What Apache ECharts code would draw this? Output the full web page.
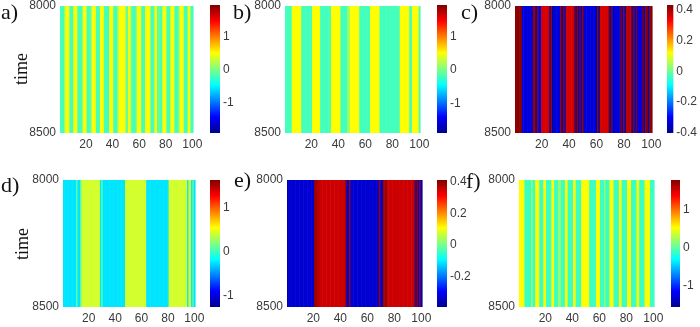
<!DOCTYPE html>
<html>
<head>
<meta charset="utf-8">
<script src="https://cdn.jsdelivr.net/npm/echarts@6/dist/echarts.min.js"></script>
<style>
  html, body { margin: 0; padding: 0; background: #fff; }
  #chart { width: 700px; height: 327px; }
</style>
</head>
<body>
<div id="chart"></div>
<script>
// Lattice sites 1..100 and the time window shown on every panel
const sites = Array.from({ length: 100 }, (_, i) => i + 1);
const timeSpan = [8000, 8500];
const timeTicks = [8000, 8500];
const siteTicks = [20, 40, 60, 80, 100];

// Per-site state (the patterns are frozen over the time window)
const fieldA = [
  -0.2,-0.2,-0.2,0.1,0.5,0.5,0.5,-0.2,-0.2,-0.2,
  0.5,0.5,0.5,-0.2,-0.2,-0.2,-0.2,0.5,0.5,0.5,
  -0.2,-0.2,-0.2,0.1,0.5,0.5,0.5,-0.2,-0.2,-0.2,
  0.5,0.5,0.5,-0.2,-0.2,-0.2,-0.2,0.5,0.5,0.5,
  -0.2,-0.2,-0.2,0.1,0.5,0.5,0.5,0.5,0.5,0.1,
  -0.2,0.5,0.5,0.0,-0.2,-0.2,-0.2,0.1,0.5,0.5,
  0.5,-0.2,-0.2,-0.2,0.5,0.5,0.5,0.5,-0.2,-0.2,
  -0.2,0.5,0.5,-0.2,0.0,-0.2,-0.2,0.5,0.5,0.5,
  -0.2,-0.2,-0.2,0.5,0.5,0.5,-0.2,-0.2,-0.2,0.1,
  0.5,0.5,0.5,-0.2,-0.2,-0.2,0.5,0.5,-0.2,-0.2
];
const fieldB = [
  -0.2,-0.2,-0.2,-0.2,-0.2,0.5,0.5,0.5,0.5,0.5,
  0.5,0.5,-0.2,-0.2,-0.2,-0.2,-0.2,-0.2,-0.2,-0.2,
  0.5,0.5,0.5,0.5,0.5,0.5,-0.2,-0.2,-0.2,-0.2,
  -0.2,-0.2,-0.2,-0.2,0.5,0.5,0.5,0.5,0.5,0.5,
  0.5,-0.2,-0.2,-0.2,-0.2,-0.2,0.1,0.1,0.5,0.5,
  0.5,0.5,0.5,0.5,0.5,-0.2,-0.2,-0.2,-0.2,-0.2,
  -0.2,-0.2,-0.2,0.5,0.5,0.5,0.5,0.5,0.5,0.5,
  -0.2,-0.2,-0.2,-0.2,-0.2,-0.2,-0.2,-0.2,-0.2,-0.2,
  -0.2,-0.2,-0.2,-0.2,-0.2,0.5,0.5,0.5,0.5,0.5,
  0.5,0.5,-0.2,-0.2,0.5,0.5,0.5,0.5,0.5,-0.2
];
const fieldC = [
  0.42,0.42,0.42,0.42,0.42,-0.33,-0.33,-0.33,-0.33,-0.33,
  -0.33,-0.33,-0.33,0.42,0.42,-0.36,0.42,-0.33,-0.33,0.36,
  0.36,0.36,0.36,0.36,0.36,-0.39,0.4,-0.39,-0.33,-0.33,
  -0.33,-0.33,-0.33,0.42,-0.36,0.42,-0.36,0.36,0.36,0.36,
  0.36,0.36,0.36,0.42,-0.36,0.42,-0.36,0.42,-0.36,0.42,
  -0.33,-0.33,-0.33,-0.33,-0.33,-0.33,-0.33,-0.33,-0.33,-0.39,
  0.42,-0.39,0.36,0.36,0.36,0.36,0.36,0.36,0.42,-0.36,
  0.42,-0.36,-0.33,-0.33,-0.33,-0.33,-0.33,0.42,-0.36,0.42,
  -0.36,0.38,0.38,0.38,0.38,-0.36,0.42,-0.36,0.42,-0.33,
  -0.33,-0.33,-0.33,0.42,-0.36,0.42,0.42,-0.36,0.42,0.42
];
const fieldD = [
  -0.24,-0.24,-0.24,-0.24,-0.24,-0.24,-0.24,-0.24,-0.24,-0.24,
  0.1,-0.24,-0.24,0.1,0.43,0.43,0.43,0.43,0.43,0.43,
  0.43,0.43,0.43,0.43,0.43,0.43,0.43,0.43,-0.24,0.1,
  -0.24,-0.24,-0.24,-0.24,-0.24,-0.24,-0.24,-0.24,-0.24,-0.24,
  -0.24,-0.24,-0.24,-0.24,-0.24,-0.24,-0.24,0.43,0.43,0.43,
  0.43,0.43,0.43,0.43,0.43,0.43,0.43,0.43,0.43,0.43,
  0.43,0.43,0.43,-0.24,-0.24,-0.24,-0.24,-0.24,-0.24,-0.24,
  -0.24,-0.24,-0.24,-0.24,-0.24,-0.24,-0.24,-0.24,-0.24,-0.24,
  0.43,0.43,0.43,0.43,0.43,0.43,0.43,0.43,0.43,0.43,
  0.43,0.43,0.43,0.43,-0.24,0.43,0.43,-0.24,0.1,-0.24
];
const fieldE = [
  -0.36,-0.33,-0.33,-0.33,-0.33,-0.33,-0.33,-0.33,-0.33,-0.33,
  -0.33,-0.33,-0.33,-0.33,-0.33,-0.33,-0.33,-0.33,-0.33,-0.33,
  0.39,0.39,0.37,0.37,0.35,0.35,0.35,0.35,0.35,0.35,
  0.35,0.35,0.35,0.35,0.35,0.35,0.35,0.35,0.35,0.35,
  0.35,0.35,0.35,0.39,-0.33,-0.33,0.39,-0.33,-0.33,-0.33,
  -0.33,-0.33,-0.33,-0.33,-0.33,-0.33,-0.33,-0.33,-0.33,-0.33,
  -0.33,-0.33,-0.33,-0.33,-0.33,-0.33,-0.33,-0.33,0.39,-0.34,
  -0.34,0.39,0.39,0.39,0.35,0.35,0.35,0.35,0.35,0.35,
  0.35,0.35,0.35,0.35,0.35,0.35,0.35,0.35,0.35,0.35,
  0.35,0.35,0.35,0.35,0.39,-0.34,0.39,-0.34,0.39,-0.36
];
const fieldF = [
  0.53,0.53,0.53,0.53,-0.12,-0.12,-0.12,-0.12,-0.12,0.2,
  -0.12,-0.12,0.53,0.53,0.53,-0.12,-0.12,-0.12,0.53,0.53,
  -0.12,-0.12,-0.12,-0.12,0.53,0.53,-0.12,-0.12,-0.12,0.2,
  0.2,-0.12,-0.12,-0.12,0.53,0.53,-0.12,-0.12,-0.12,-0.12,
  0.53,0.53,-0.12,-0.12,-0.12,-0.12,0.53,0.53,0.53,0.53,
  0.53,0.53,-0.12,-0.12,-0.12,-0.12,-0.12,0.53,0.53,0.53,
  -0.12,-0.12,-0.12,0.2,-0.12,-0.12,-0.12,0.53,0.53,0.53,
  -0.12,-0.12,-0.12,-0.12,0.53,0.53,-0.12,-0.12,-0.12,-0.12,
  0.53,0.53,0.53,-0.12,-0.12,-0.12,-0.12,0.53,0.53,-0.12,
  -0.12,-0.12,-0.12,0.53,0.53,0.53,0.53,-0.12,-0.12,-0.12
];

// Colour limits and colorbar ticks of each panel
const rangeA = [-1.9, 1.95];  const barTicksA = [-1, 0, 1];
const rangeB = [-1.88, 1.93]; const barTicksB = [-1, 0, 1];
const rangeC = [-0.4, 0.43];  const barTicksC = [-0.4, -0.2, 0, 0.2, 0.4];
const rangeD = [-1.25, 1.64]; const barTicksD = [-1, 0, 1];
const rangeE = [-0.39, 0.41]; const barTicksE = [-0.2, 0, 0.2, 0.4];
const rangeF = [-1.58, 1.8];  const barTicksF = [-1, 0, 1];

// MATLAB-style jet colormap
const jet = ['#00008f', '#0000ff', '#0080ff', '#00ffff', '#80ff80',
             '#ffff00', '#ff8000', '#ff0000', '#800000'];

const panels = [
  { tag: 'a)', field: fieldA, range: rangeA, ticks: barTicksA, plot: [60, 5, 133, 128],  bar: [210, 5, 10, 128],  tagPos: [1, 13],   time: [22, 69] },
  { tag: 'b)', field: fieldB, range: rangeB, ticks: barTicksB, plot: [285, 5, 135, 128], bar: [437, 5, 10, 128],  tagPos: [233, 13] },
  { tag: 'c)', field: fieldC, range: rangeC, ticks: barTicksC, plot: [515, 5, 137, 128], bar: [667, 5, 10, 128],  tagPos: [461, 13] },
  { tag: 'd)', field: fieldD, range: rangeD, ticks: barTicksD, plot: [63, 180, 132, 127], bar: [210, 180, 10, 127], tagPos: [1, 186],  time: [23, 244] },
  { tag: 'e)', field: fieldE, range: rangeE, ticks: barTicksE, plot: [287, 180, 135, 127], bar: [437, 180, 10, 127], tagPos: [234, 181] },
  { tag: 'f)', field: fieldF, range: rangeF, ticks: barTicksF, plot: [519, 180, 135, 127], bar: [671, 180, 9, 127], tagPos: [466, 182] }
];

const labelFont = { fontFamily: 'Liberation Sans, Arial, sans-serif', fontSize: 12, color: '#3a3a3a' };
const plain = v => String(v);

// One full-height column per site, coloured by the visualMap
function siteColumn(params, api) {
  const s = api.value(0);
  const p0 = api.coord([s - 0.5, timeSpan[0]]);
  const p1 = api.coord([s + 0.5, timeSpan[1]]);
  return {
    type: 'rect',
    shape: { x: p0[0], y: Math.min(p0[1], p1[1]), width: p1[0] - p0[0] + 0.6, height: Math.abs(p1[1] - p0[1]) },
    style: { fill: api.visual('color') }
  };
}

// Colorbar: one rectangle spanning the colour limits with the jet ramp
function colorbarRect(params, api) {
  const top = api.coord([0, api.value(1)]);
  const bottom = api.coord([1, api.value(0)]);
  const stops = jet.map((c, i) => ({ offset: 1 - i / (jet.length - 1), color: c })).reverse();
  return {
    type: 'rect',
    shape: { x: top[0], y: top[1], width: bottom[0] - top[0], height: bottom[1] - top[1] },
    style: { fill: new echarts.graphic.LinearGradient(0, 0, 0, 1, stops) }
  };
}

const option = {
  animation: false,
  backgroundColor: '#ffffff',
  grid: [], xAxis: [], yAxis: [], series: [], visualMap: [], graphic: []
};

panels.forEach(p => {
  const gi = option.grid.length;
  option.grid.push({ left: p.plot[0], top: p.plot[1], width: p.plot[2], height: p.plot[3] });
  option.xAxis.push({
    type: 'value', gridIndex: gi, min: sites[0] - 0.5, max: sites[sites.length - 1] + 0.5,
    axisLine: { show: false }, axisTick: { show: false }, splitLine: { show: false },
    axisLabel: Object.assign({ customValues: siteTicks, formatter: plain, margin: 6 }, labelFont)
  });
  option.yAxis.push({
    type: 'value', gridIndex: gi, inverse: true, min: timeSpan[0], max: timeSpan[1],
    axisLine: { show: false }, axisTick: { show: false }, splitLine: { show: false },
    axisLabel: Object.assign({ customValues: timeTicks, formatter: plain, margin: 4 }, labelFont)
  });
  option.series.push({
    type: 'custom', xAxisIndex: gi, yAxisIndex: gi,
    data: sites.map((s, k) => [s, p.field[k]]),
    encode: { x: 0 },
    renderItem: siteColumn
  });
  option.visualMap.push({
    type: 'continuous', show: false, seriesIndex: option.series.length - 1, dimension: 1,
    min: p.range[0], max: p.range[1], inRange: { color: jet }
  });

  const bi = option.grid.length;
  option.grid.push({ left: p.bar[0], top: p.bar[1], width: p.bar[2], height: p.bar[3] });
  option.xAxis.push({ type: 'value', gridIndex: bi, min: 0, max: 1, show: false });
  option.yAxis.push({
    type: 'value', gridIndex: bi, position: 'right', min: p.range[0], max: p.range[1],
    axisLine: { show: false }, axisTick: { show: false }, splitLine: { show: false },
    axisLabel: Object.assign({ customValues: p.ticks, formatter: plain, margin: 3 }, labelFont)
  });
  option.series.push({
    type: 'custom', xAxisIndex: bi, yAxisIndex: bi,
    data: [[p.range[0], p.range[1]]],
    encode: { y: [0, 1] },
    renderItem: colorbarRect
  });

  option.graphic.push({
    type: 'text', x: p.tagPos[0], y: p.tagPos[1],
    style: { text: p.tag, font: '22px "Liberation Serif", "Times New Roman", serif', fill: '#111', verticalAlign: 'middle' }
  });
  if (p.time) {
    option.graphic.push({
      type: 'text', x: p.time[0], y: p.time[1], rotation: Math.PI / 2,
      style: { text: 'time', font: '18px "Liberation Serif", "Times New Roman", serif', fill: '#111', align: 'center', verticalAlign: 'middle' }
    });
  }
});

const chart = echarts.init(document.getElementById('chart'), null, { renderer: 'canvas' });
chart.setOption(option);
</script>
</body>
</html>
